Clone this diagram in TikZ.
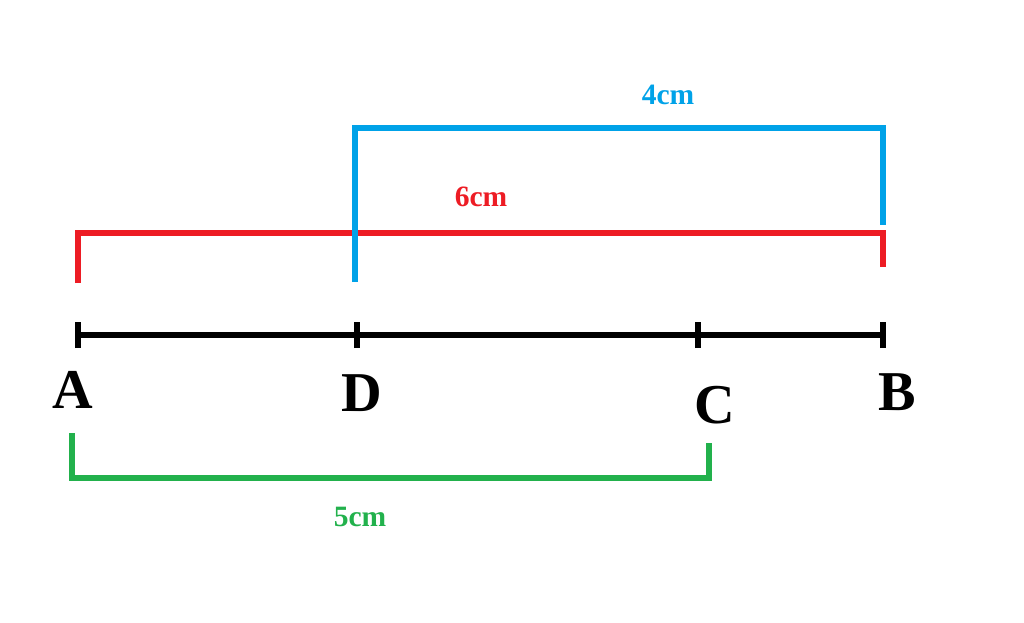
\documentclass[tikz,border=0pt]{standalone}
\usepackage{fontspec}
\setmainfont{Liberation Serif}
\definecolor{segred}{RGB}{237,28,36}
\definecolor{segblue}{RGB}{0,162,232}
\definecolor{seggreen}{RGB}{34,177,76}
\begin{document}
\begin{tikzpicture}[x=0.025cm, y=-0.025cm, line width=4.3pt,
  pt/.style={font=\fontsize{40}{40}\selectfont\bfseries},
  len/.style={font=\fontsize{21}{21}\selectfont\bfseries}]
\useasboundingbox (0,0) rectangle (1024,623);
                    % Points on the line
                    \coordinate (a) at (78,335);
                    \coordinate (d) at (357,335);
                    \coordinate (c) at (698,335);
                    \coordinate (b) at (883,335);
                    \draw (a) -- (b);
                    \foreach \p in {a,d,c,b}
                      \draw ([yshift=-13*0.025cm]\p) -- ([yshift=13*0.025cm]\p);

                    % Letters
                    \node[pt] (na) at (73,390) {A};
                    \node[pt] (nd) at (362,393) {D};
                    \node[pt] (nc) at (715,405) {C};
                    \node[pt] (nb) at (897,392) {B};

                    % Bracket AB
                    \draw[segred] (78,283) -- (78,233) -- (883,233) -- (883,267);
                    \node[len, text=segred] (lab) at (481,197) {6cm};

                    % Bracket DB
                    \draw[segblue] (355,282) -- (355,128) -- (883,128) -- (883,225);
                    \node[len, text=segblue] (ldb) at (668,95) {4cm};

                    % Bracket AC
                    \draw[seggreen] (72,433) -- (72,478) -- (709,478) -- (709,443);
                    \node[len, text=seggreen] (lac) at (360,517) {5cm};
\end{tikzpicture}
\end{document}
